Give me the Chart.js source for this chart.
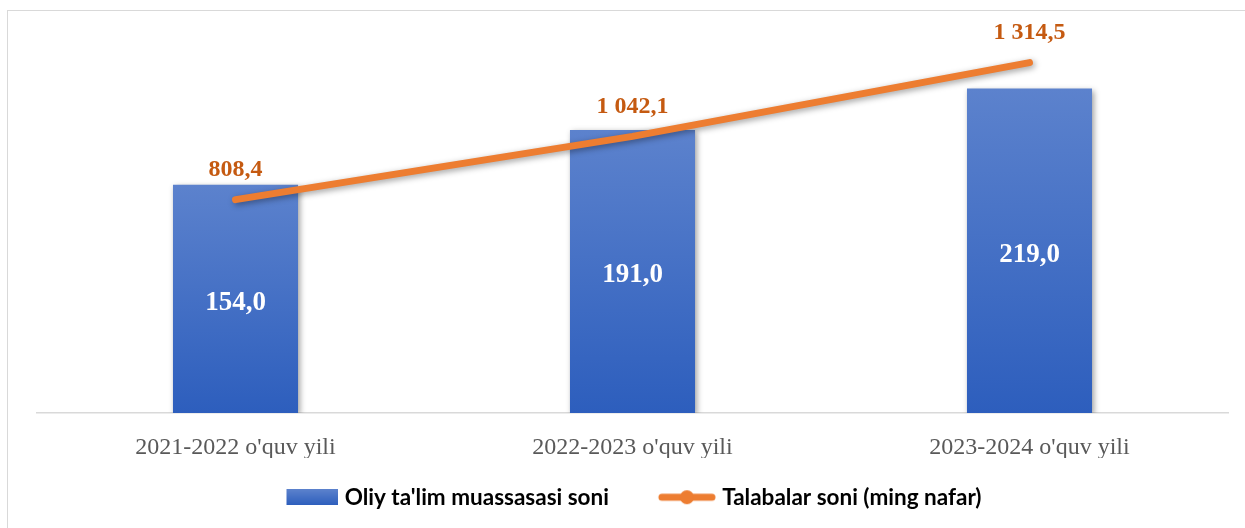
<!DOCTYPE html>
<html lang="uz">
<head>
<meta charset="UTF-8" />
<title>Oliy ta'lim muassasalari va talabalar soni</title>
<script src="https://cdn.jsdelivr.net/npm/chart.js"></script>
<style>
  html, body { margin: 0; padding: 0; background: #fff; }
  body { width: 1245px; height: 528px; position: relative; overflow: hidden; }
  #frame { position: absolute; left: 7px; top: 10px; width: 1260px; height: 540px;
           border: 1.5px solid #d9d9d9; box-sizing: border-box; }
  #chart { position: absolute; left: 0; top: 0; }
</style>
</head>
<body>
<div id="frame"></div>
<canvas id="chart" width="1245" height="528"></canvas>
<script>
// data
const categories = ["2021-2022 o'quv yili", "2022-2023 o'quv yili", "2023-2024 o'quv yili"];
const institutions = [154.0, 191.0, 219.0];       // Oliy ta'lim muassasasi soni
const students = [808.4, 1042.1, 1314.5];         // Talabalar soni (ming nafar)
const seriesNames = ["Oliy ta'lim muassasasi soni", "Talabalar soni (ming nafar)"];

const BLUE_TOP = "#5c82cd";
const BLUE_BOTTOM = "#2d5ebd";
const ORANGE = "#ed7d31";
const LABEL_ORANGE = "#c55a11";
const MARK_W = 74;   // legend box width

function fmt(v) {
    const parts = v.toFixed(1).split(".");
    return parts[0].replace(/\B(?=(\d{3})+(?!\d))/g, " ") + "," + parts[1];
}

// legend markers (drawn a bit wider than the box so they sit close to the text)
function barMarker() {
    const c = document.createElement("canvas");
    c.width = MARK_W + 10; c.height = 16;
    const g = c.getContext("2d");
    const grd = g.createLinearGradient(0, 0, 0, 16);
    grd.addColorStop(0, BLUE_TOP);
    grd.addColorStop(1, BLUE_BOTTOM);
    g.fillStyle = grd;
    g.fillRect(c.width - 52, 0, 52, 16);
    return c;
}
function lineMarker() {
    const c = document.createElement("canvas");
    c.width = MARK_W + 10; c.height = 16;
    const g = c.getContext("2d");
    const x0 = c.width - 58;
    g.strokeStyle = ORANGE;
    g.lineWidth = 7;
    g.lineCap = "round";
    g.beginPath();
    g.moveTo(x0 + 4, 8); g.lineTo(c.width - 4, 8);
    g.stroke();
    g.fillStyle = ORANGE;
    g.beginPath();
    g.arc(x0 + 29, 8, 7, 0, Math.PI * 2);
    g.fill();
    return c;
}
const markers = [barMarker(), lineMarker()];

function barGradient(ctx) {
    const chart = ctx.chart;
    const y = chart.scales && chart.scales.y;
    if (!chart.chartArea || !y || ctx.raw === undefined) return BLUE_BOTTOM;
    const top = y.getPixelForValue(ctx.raw);
    const bottom = y.getPixelForValue(0);
    const grd = chart.ctx.createLinearGradient(0, top, 0, bottom);
    grd.addColorStop(0, BLUE_TOP);
    grd.addColorStop(1, BLUE_BOTTOM);
    return grd;
}

// soft shadow under bars and line, then value labels on top
const shadowAndLabels = {
    id: "shadowAndLabels",
    afterLayout(chart) {
        // legend sits a little left of centre in the original
        chart.legend.left -= 12;
        chart.legend.right -= 12;
    },
    beforeDatasetsDraw(chart) {
        const c = chart.ctx;
        c.save();
        c.shadowColor = "rgba(0,0,0,0.38)";
        c.shadowBlur = 6;
        c.shadowOffsetX = 2;
        c.shadowOffsetY = 2;
    },
    afterDatasetsDraw(chart) {
        const c = chart.ctx;
        c.restore();
        c.save();
        c.textAlign = "center";
        c.textBaseline = "middle";

        c.font = "bold 27px 'Liberation Serif', 'Times New Roman', serif";
        c.fillStyle = "#ffffff";
        chart.getDatasetMeta(0).data.forEach((bar, i) => {
            c.fillText(fmt(institutions[i]), bar.x, (bar.y + bar.base) / 2 + 4);
        });

        c.font = "bold 24px 'Liberation Serif', 'Times New Roman', serif";
        c.fillStyle = LABEL_ORANGE;
        chart.getDatasetMeta(1).data.forEach((pt, i) => {
            c.fillText(fmt(students[i]), pt.x, pt.y - 30);
        });
        c.restore();
    }
};

new Chart(document.getElementById("chart"), {
    type: "bar",
    data: {
        labels: categories,
        datasets: [
            {
                type: "bar",
                label: seriesNames[0],
                data: institutions,
                yAxisID: "y",
                backgroundColor: barGradient,
                barPercentage: 0.315,
                categoryPercentage: 1,
                order: 2
            },
            {
                type: "line",
                label: seriesNames[1],
                data: students,
                yAxisID: "y1",
                borderColor: ORANGE,
                backgroundColor: ORANGE,
                borderWidth: 7,
                borderCapStyle: "round",
                pointRadius: 0,
                pointHoverRadius: 0,
                tension: 0,
                order: 1
            }
        ]
    },
    options: {
        responsive: false,
        animation: false,
        devicePixelRatio: 1,
        layout: { padding: { left: 37, right: 17, top: 13, bottom: 9.5 } },
        scales: {
            x: {
                grid: { display: false, drawTicks: false },
                border: { display: true, color: "#d9d9d9", width: 1.5 },
                ticks: {
                    color: "#595959",
                    padding: 20,
                    font: { family: "'Liberation Serif', 'Times New Roman', serif", size: 24 }
                },
                afterFit(scale) { scale.height = 45; }
            },
            y: { display: false, min: 0, max: 270 },
            y1: { display: false, min: 20, max: 1498 }
        },
        plugins: {
            tooltip: { enabled: false },
            legend: {
                position: "bottom",
                labels: {
                    usePointStyle: true,
                    pointStyleWidth: MARK_W,
                    padding: 28,
                    color: "#000000",
                    font: { family: "Lato, 'Liberation Sans', sans-serif", size: 22.5, weight: "bold" },
                    generateLabels(chart) {
                        return chart.data.datasets.map((ds, i) => ({
                            text: ds.label,
                            pointStyle: markers[i],
                            fillStyle: "transparent",
                            strokeStyle: "transparent",
                            lineWidth: 0,
                            fontColor: "#000000",
                            hidden: false,
                            datasetIndex: i
                        }));
                    }
                }
            }
        }
    },
    plugins: [shadowAndLabels]
});
</script>
</body>
</html>
